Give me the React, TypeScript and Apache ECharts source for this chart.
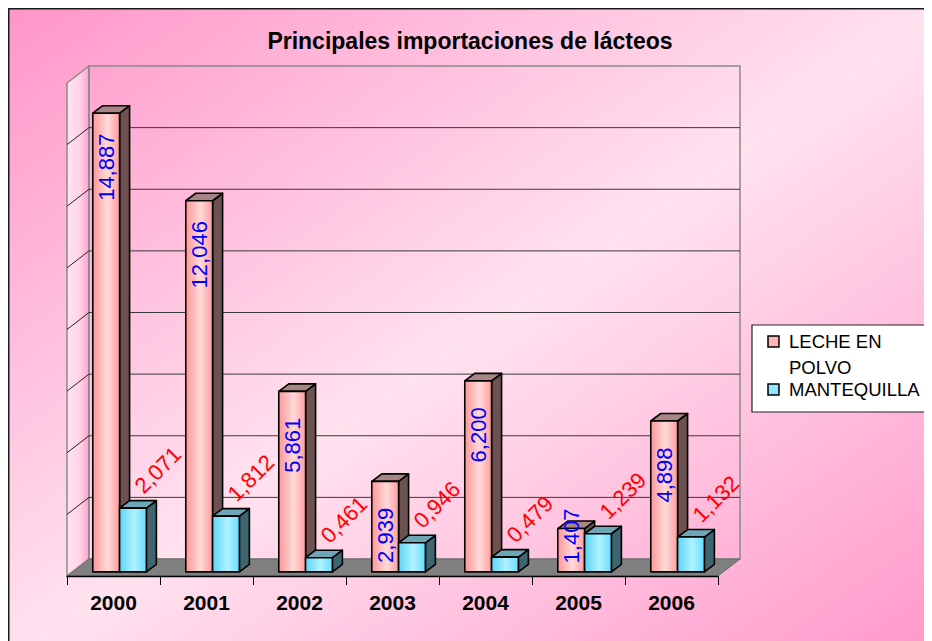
import React, { useEffect, useRef } from 'react';
import * as echarts from 'echarts';

const years = ['2000', '2001', '2002', '2003', '2004', '2005', '2006'];
const lecheEnPolvo = [14.887, 12.046, 5.861, 2.939, 6.2, 1.407, 4.898];
const mantequilla = [2.071, 1.812, 0.461, 0.946, 0.479, 1.239, 1.132];
const valueTicks = [0, 2, 4, 6, 8, 10, 12, 14, 16];
const seriesNames = ['LECHE EN POLVO', 'MANTEQUILLA'];
const legendLabels = ['LECHE EN\nPOLVO', 'MANTEQUILLA'];
const titleText = 'Principales importaciones de lácteos';

const FONT = '"Liberation Sans", Arial, sans-serif';
const DX = 22;
const DY = -17;
const BAR_T0 = 0.24;
const BAR_DX = 10;
const BAR_DY = -7.5;
const BAR_W = 26.8;
const BAR_OFF = [-26, 0.8];

const fmt = (v: number) => v.toFixed(3).replace('.', ',');

const pinkFront = {
  type: 'linear', x: 0, y: 0, x2: 1, y2: 0,
  colorStops: [
    { offset: 0, color: '#ff9696' },
    { offset: 0.55, color: '#ffdada' },
    { offset: 1, color: '#ff9c9c' },
  ],
};
const blueFront = {
  type: 'linear', x: 0, y: 0, x2: 1, y2: 0,
  colorStops: [
    { offset: 0, color: '#5cd4f4' },
    { offset: 0.55, color: '#b0f2ff' },
    { offset: 1, color: '#66dcff' },
  ],
};
const faceColors = [
  { front: pinkFront, side: '#6e5252', top: '#a88585', legend: '#ffb4b4', label: '#0000ff' },
  { front: blueFront, side: '#3f6670', top: '#6fa6b6', legend: '#8ee6ff', label: '#ff0000' },
];

export default function App() {
  const ref = useRef<HTMLDivElement>(null);
  useEffect(() => {
    document.body.style.overflow = 'hidden';
    document.documentElement.style.overflow = 'hidden';
    if (!ref.current) return;
    const chart = echarts.init(ref.current, null, { renderer: 'svg' });

    const wallSeries = {
      type: 'custom',
      z: 1,
      silent: true,
      data: [[0, 0]],
      renderItem: (params: any, api: any) => {
        const cs = params.coordSys;
        const x0 = cs.x;
        const x1 = cs.x + cs.width;
        const yt = cs.y;
        const yb = cs.y + cs.height;
        const children: any[] = [];
        children.push({
          type: 'polygon',
          shape: { points: [[x0, yt], [x0 + DX, yt + DY], [x0 + DX, yb + DY], [x0, yb]] },
          style: {
            fill: {
              type: 'linear', x: 0, y: 0, x2: 1, y2: 0,
              colorStops: [
                { offset: 0, color: '#ffe4f1' },
                { offset: 0.6, color: '#ffd2e7' },
                { offset: 1, color: '#ff9fcd' },
              ],
            },
            stroke: '#8a8a8a',
            lineWidth: 1.5,
          },
        });
        children.push({
          type: 'rect',
          shape: { x: x0 + DX, y: yt + DY, width: cs.width, height: cs.height },
          style: { fill: 'none', stroke: '#8a8a8a', lineWidth: 1.5 },
        });
        valueTicks.forEach((v) => {
          if (v <= 0 || v >= valueTicks[valueTicks.length - 1]) return;
          const y = api.coord([0, v])[1];
          children.push({
            type: 'line',
            shape: { x1: x0 + DX, y1: y + DY, x2: x1 + DX, y2: y + DY },
            style: { stroke: '#3a3a3a', lineWidth: 1 },
          });
          children.push({
            type: 'line',
            shape: { x1: x0, y1: y, x2: x0 + DX, y2: y + DY },
            style: { stroke: '#222', lineWidth: 1 },
          });
        });
        children.push({
          type: 'polygon',
          shape: { points: [[x0, yb], [x1, yb], [x1 + DX, yb + DY], [x0 + DX, yb + DY]] },
          style: { fill: '#808080', stroke: '#6a6a6a', lineWidth: 1 },
        });
        return { type: 'group', children };
      },
    };

    const barSeries = [lecheEnPolvo, mantequilla].map((vals, si) => ({
      type: 'custom',
      name: seriesNames[si],
      z: 3 + si,
      data: vals.map((v, i) => [i, v]),
      renderItem: (params: any, api: any) => {
        const idx = api.value(0);
        const val = api.value(1);
        const c = api.coord([idx, val]);
        const b = api.coord([idx, 0]);
        const sx = DX * BAR_T0;
        const sy = DY * BAR_T0;
        const xl = c[0] + BAR_OFF[si] + sx;
        const xr = xl + BAR_W;
        const yt = c[1] + sy;
        const yb = b[1] + sy;
        const fc = faceColors[si];
        const stroke = { stroke: '#000', lineWidth: 1.6, lineJoin: 'round' };
        const children: any[] = [
          {
            type: 'polygon',
            shape: { points: [[xr, yt], [xr + BAR_DX, yt + BAR_DY], [xr + BAR_DX, yb + BAR_DY], [xr, yb]] },
            style: { fill: fc.side, ...stroke },
          },
          {
            type: 'polygon',
            shape: { points: [[xl, yt], [xr, yt], [xr + BAR_DX, yt + BAR_DY], [xl + BAR_DX, yt + BAR_DY]] },
            style: { fill: fc.top, ...stroke },
          },
          {
            type: 'rect',
            shape: { x: xl, y: yt, width: BAR_W, height: yb - yt },
            style: { fill: fc.front, ...stroke },
          },
        ];
        const cx = xl + BAR_W / 2;
        if (si === 0) {
          children.push({
            type: 'text',
            x: cx,
            y: Math.min(yt + 54, yb - 36),
            rotation: Math.PI / 2,
            z2: 50,
            style: {
              text: fmt(val), fill: fc.label, font: `22px ${FONT}`,
              align: 'center', verticalAlign: 'middle',
            },
          });
        } else {
          children.push({
            type: 'text',
            x: cx + 25,
            y: yt - 38,
            rotation: Math.PI / 4,
            z2: 50,
            style: {
              text: fmt(val), fill: fc.label, font: `22px ${FONT}`,
              align: 'center', verticalAlign: 'middle',
            },
          });
        }
        return { type: 'group', children };
      },
    }));

    const legendEls: any[] = [
      {
        type: 'rect',
        shape: { x: 744, y: 317, width: 200, height: 87 },
        style: { fill: '#fff', stroke: '#222', lineWidth: 1.2 },
        z: 20,
      },
    ];
    const legendRows = [328, 376];
    legendLabels.forEach((lab, i) => {
      legendEls.push({
        type: 'rect',
        shape: { x: 760, y: legendRows[i], width: 11, height: 11 },
        style: { fill: faceColors[i].legend, stroke: '#000', lineWidth: 1.5 },
        z: 21,
      });
      legendEls.push({
        type: 'text',
        x: 781,
        y: i === 0 ? legendRows[i] + 5.5 - 13 : legendRows[i] + 5.5,
        z: 21,
        style: {
          text: lab, fill: '#000', font: `18.5px ${FONT}`,
          verticalAlign: i === 0 ? 'top' : 'middle',
          lineHeight: i === 0 ? 26 : 18,
        },
      });
    });

    chart.setOption({
      animation: false,
      title: {
        text: titleText,
        left: 'center',
        top: 16,
        padding: [5, 5, 5, 33],
        textStyle: { fontFamily: FONT, fontWeight: 'bold', fontSize: 23, color: '#000' },
      },
      graphic: [
        {
          type: 'rect',
          z: -10,
          silent: true,
          shape: { x: 0.75, y: 0.75, width: 940, height: 650 },
          style: {
            fill: {
              type: 'linear', x: 0, y: 0, x2: 1, y2: 1,
              colorStops: [
                { offset: 0, color: '#ff96c9' },
                { offset: 0.5, color: '#ffe2ef' },
                { offset: 1, color: '#ff96c9' },
              ],
            },
            stroke: '#1a1a1a',
            lineWidth: 1.5,
          },
        },
        ...legendEls,
      ],
      grid: { left: 59, top: 75, width: 651, height: 493, containLabel: false },
      xAxis: {
        type: 'category',
        data: years,
        z: 10,
        axisLine: { lineStyle: { color: '#000', width: 1.3 } },
        axisTick: { show: true, length: 9, lineStyle: { color: '#000', width: 1 } },
        axisLabel: { fontFamily: FONT, fontWeight: 'bold', fontSize: 21, color: '#000', margin: 16 },
        splitLine: { show: false },
      },
      yAxis: {
        type: 'value',
        min: 0,
        max: 16,
        interval: 2,
        show: false,
      },
      series: [wallSeries, ...barSeries],
    } as any);
    return () => chart.dispose();
  }, []);
  return <div ref={ref} style={{ width: 924, height: 633 }} />;
}
